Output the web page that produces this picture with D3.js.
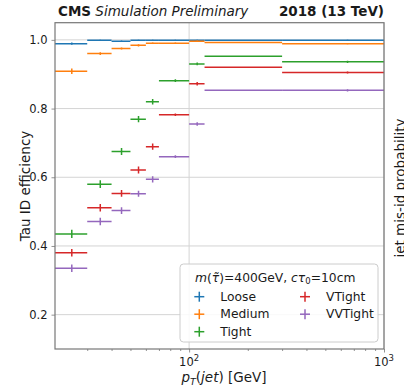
<!DOCTYPE html>
<html>
<head>
<meta charset="utf-8">
<script src="https://cdn.jsdelivr.net/npm/d3@7"></script>
<style>
  body { margin: 0; background: #fff; }
  svg text { font-family: "DejaVu Sans", sans-serif; fill: #1a1a1a; }
</style>
</head>
<body>
<svg id="chart" width="404" height="390"></svg>
<script>
// pT(jet) bin edges in GeV
const binEdges = [20, 30, 40, 50, 60, 70, 100, 120, 300, 1000];

// Working points of the tau ID discriminator
const workingPoints = ["Loose", "Medium", "Tight", "VTight", "VVTight"];
const wpColors = ["#1f77b4", "#ff7f0e", "#2ca02c", "#d62728", "#9467bd"];

// Efficiency per bin for each working point
const effLoose   = [0.989, 0.999, 0.996, 0.999, 0.999, 0.999, 0.999, 0.999, 0.999];
const effMedium  = [0.909, 0.960, 0.975, 0.984, 0.990, 0.990, 0.996, 0.992, 0.989];
const effTight   = [0.435, 0.580, 0.675, 0.769, 0.820, 0.881, 0.930, 0.952, 0.936];
const effVTight  = [0.380, 0.511, 0.553, 0.621, 0.689, 0.782, 0.872, 0.920, 0.905];
const effVVTight = [0.335, 0.471, 0.503, 0.552, 0.594, 0.660, 0.755, 0.853, 0.853];

// Statistical uncertainty per bin
const errLoose   = [0.003, 0.001, 0.002, 0.001, 0.001, 0.001, 0.001, 0.000, 0.001];
const errMedium  = [0.008, 0.004, 0.003, 0.003, 0.002, 0.002, 0.002, 0.000, 0.002];
const errTight   = [0.012, 0.011, 0.010, 0.009, 0.008, 0.004, 0.004, 0.000, 0.003];
const errVTight  = [0.011, 0.011, 0.010, 0.010, 0.009, 0.004, 0.005, 0.000, 0.003];
const errVVTight = [0.011, 0.011, 0.010, 0.009, 0.009, 0.004, 0.005, 0.000, 0.003];

const effValues = [effLoose, effMedium, effTight, effVTight, effVVTight];
const errValues = [errLoose, errMedium, errTight, errVTight, errVVTight];

const xMajorTicks = [100, 1000];
const xMinorTicks = [30, 40, 50, 60, 70, 80, 90, 200, 300, 400, 500, 600, 700, 800, 900];
const yTicks = [0.2, 0.4, 0.6, 0.8, 1.0];
const xExponents = ["2", "3"];

const plot = { left: 55, right: 384, top: 22.7, bottom: 349 };

const svg = d3.select("#chart");

const x = d3.scaleLog().domain([20.5, 1000]).range([plot.left, plot.right]);
const y = d3.scaleLinear().domain([0.1, 1.05]).range([plot.bottom, plot.top]);

svg.append("defs").append("clipPath").attr("id", "plotClip")
  .append("rect")
  .attr("x", plot.left).attr("y", plot.top)
  .attr("width", plot.right - plot.left).attr("height", plot.bottom - plot.top);

// grid
const grid = svg.append("g").attr("stroke", "#d4d4d4").attr("stroke-width", 1);
yTicks.forEach(v => {
  grid.append("line").attr("x1", plot.left).attr("x2", plot.right)
    .attr("y1", y(v)).attr("y2", y(v));
});
xMajorTicks.forEach(v => {
  grid.append("line").attr("x1", x(v)).attr("x2", x(v))
    .attr("y1", plot.top).attr("y2", plot.bottom);
});

// efficiency points with bin-width and uncertainty bars
const dataG = svg.append("g").attr("clip-path", "url(#plotClip)");
workingPoints.forEach((wp, k) => {
  const rows = effValues[k].map((e, i) => ({
    lo: binEdges[i], hi: binEdges[i + 1], c: (binEdges[i] + binEdges[i + 1]) / 2,
    e: e, err: errValues[k][i]
  }));
  const g = dataG.append("g").attr("stroke", wpColors[k]).attr("stroke-width", 1.5);
  g.selectAll("line.h").data(rows).join("line").attr("class", "h")
    .attr("x1", d => x(d.lo)).attr("x2", d => x(d.hi))
    .attr("y1", d => y(d.e)).attr("y2", d => y(d.e));
  g.selectAll("line.v").data(rows.filter(d => d.err > 0)).join("line").attr("class", "v")
    .attr("x1", d => x(d.c)).attr("x2", d => x(d.c))
    .attr("y1", d => y(d.e - d.err)).attr("y2", d => y(d.e + d.err));
});

// axes
const axisColor = "#777";
const xAxisMajor = svg.append("g").attr("transform", `translate(0,${plot.bottom})`)
  .call(d3.axisBottom(x).tickValues(xMajorTicks).tickSize(3.5).tickFormat(""));
const xAxisMinor = svg.append("g").attr("transform", `translate(0,${plot.bottom})`)
  .call(d3.axisBottom(x).tickValues(xMinorTicks).tickSize(2).tickFormat(""));
[xAxisMajor, xAxisMinor].forEach(a => {
  a.select(".domain").remove();
  a.selectAll("line").attr("stroke", axisColor).attr("stroke-width", 0.8);
});
xMajorTicks.forEach((v, i) => {
  const t = svg.append("text").attr("x", x(v)).attr("y", 365.5)
    .attr("text-anchor", "middle").attr("font-size", 11.5);
  t.append("tspan").text("10");
  t.append("tspan").attr("dy", -4.5).attr("font-size", 8.5).text(xExponents[i]);
});

const yAxis = svg.append("g").attr("transform", `translate(${plot.left},0)`)
  .call(d3.axisLeft(y).tickValues(yTicks).tickSize(3.5).tickPadding(4).tickFormat(d3.format(".1f")));
yAxis.select(".domain").remove();
yAxis.selectAll("line").attr("stroke", axisColor).attr("stroke-width", 0.8);
yAxis.selectAll("text").attr("font-size", 11.5).attr("font-family", "DejaVu Sans").attr("fill", "#1a1a1a");

// frame
svg.append("rect")
  .attr("x", plot.left).attr("y", plot.top)
  .attr("width", plot.right - plot.left).attr("height", plot.bottom - plot.top)
  .attr("fill", "none").attr("stroke", axisColor).attr("stroke-width", 1.2);

// header
const head = svg.append("text").attr("x", 58).attr("y", 15.5).attr("font-size", 13.5);
head.append("tspan").attr("font-weight", "bold").text("CMS");
head.append("tspan").attr("font-style", "italic").text(" Simulation Preliminary");
svg.append("text").attr("x", 384).attr("y", 15.5).attr("text-anchor", "end")
  .attr("font-size", 13.5).attr("font-weight", "bold").text("2018 (13 TeV)");

// axis titles
const xl = svg.append("text").attr("x", 224).attr("y", 382).attr("text-anchor", "middle").attr("font-size", 13.5);
xl.append("tspan").attr("font-style", "italic").text("p");
xl.append("tspan").attr("font-style", "italic").attr("font-size", 9.5).attr("dy", 3).text("T");
xl.append("tspan").attr("dy", -3).text("(");
xl.append("tspan").attr("font-style", "italic").text("jet");
xl.append("tspan").text(") [GeV]");

svg.append("text").attr("transform", `translate(30,186) rotate(-90)`)
  .attr("text-anchor", "middle").attr("font-size", 13.5).text("Tau ID efficiency");

svg.append("text").attr("transform", `translate(405,188) rotate(-90)`)
  .attr("text-anchor", "middle").attr("font-size", 13.5).text("jet mis-id probability");

// legend
const leg = svg.append("g");
leg.append("rect").attr("x", 180).attr("y", 264).attr("width", 198).attr("height", 78)
  .attr("rx", 3.5).attr("fill", "#fff").attr("fill-opacity", 0.85)
  .attr("stroke", "#cccccc").attr("stroke-width", 1);
const lt = leg.append("text").attr("x", 195).attr("y", 281.5).attr("font-size", 12.3);
lt.append("tspan").attr("font-style", "italic").text("m");
lt.append("tspan").text("(");
lt.append("tspan").attr("font-style", "italic").text("τ̃");
lt.append("tspan").text(")=400GeV, ");
lt.append("tspan").attr("font-style", "italic").text("cτ");
lt.append("tspan").attr("font-size", 8.5).attr("dy", 2.5).text("0");
lt.append("tspan").attr("dy", -2.5).text("=10cm");

const legPos = [
  { mx: 199.3, row: 296.7 }, { mx: 199.3, row: 314.2 }, { mx: 199.3, row: 331.7 },
  { mx: 305, row: 296.7 }, { mx: 305, row: 314.2 }
];
workingPoints.forEach((wp, k) => {
  const p = legPos[k];
  const h = leg.append("g").attr("stroke", wpColors[k]).attr("stroke-width", 1.5);
  h.append("line").attr("x1", p.mx - 5).attr("x2", p.mx + 5).attr("y1", p.row).attr("y2", p.row);
  h.append("line").attr("x1", p.mx).attr("x2", p.mx).attr("y1", p.row - 5).attr("y2", p.row + 5);
  leg.append("text").attr("x", p.mx + 21).attr("y", p.row + 4.2).attr("font-size", 12.3).text(wp);
});
</script>
</body>
</html>
